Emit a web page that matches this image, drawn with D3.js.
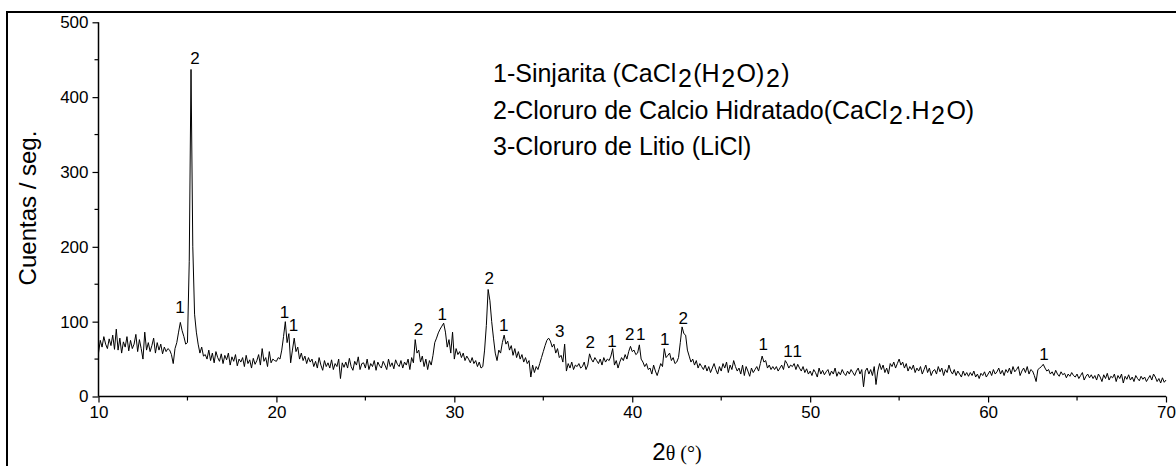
<!DOCTYPE html>
<html>
<head>
<meta charset="utf-8">
<script src="https://cdn.jsdelivr.net/npm/d3@7"></script>
<style>
  html, body { margin: 0; padding: 0; background: #fff; }
  svg { display: block; }
</style>
</head>
<body>
<svg id="chart" width="1176" height="466"></svg>
<script>
// ---- data ----
const twoThetaStart = 10;
const twoThetaStep = 0.1;
const counts = [
  58, 75, 66, 80, 70, 64, 77, 68, 82, 63,
  90, 62, 78, 58, 73, 66, 80, 61, 75, 64,
  70, 83, 60, 76, 64, 50, 86, 62, 72, 60,
  68, 78, 58, 72, 62, 70, 57, 66, 60, 64,
  62, 56, 44, 64, 72, 86, 99, 88, 80, 70,
  72, 180, 437, 200, 110, 86, 70, 58, 66, 54,
  56, 50, 62, 48, 58, 45, 60, 52, 47, 57,
  44, 55, 49, 58, 42, 53, 47, 56, 41, 50,
  46, 52, 40, 55, 44, 49, 38, 51, 43, 48,
  56, 42, 64, 47, 52, 40, 60, 45, 50, 48,
  47, 52, 50, 62, 80, 100, 72, 84, 45, 62,
  78, 60, 66, 50, 58, 48, 54, 44, 52, 46,
  50, 40, 47, 38, 52, 42, 35, 48, 40, 45,
  38, 49, 36, 44, 40, 50, 24, 45, 39, 46,
  38, 51, 40, 35, 47, 42, 53, 36, 44, 45,
  38, 50, 36, 44, 40, 48, 35, 46, 41, 38,
  47, 42, 36, 50, 40, 45, 37, 49, 43, 40,
  48, 38, 46, 42, 50, 36, 52, 45, 76, 58,
  62, 46, 54, 40, 50, 36, 48, 42, 55, 72,
  78, 85, 90, 94, 98, 86, 66, 76, 58, 86,
  50, 64, 56, 60, 52, 58, 48, 54, 50, 45,
  52, 44, 48, 40, 46, 38, 40, 62, 95, 143,
  128, 100, 78, 58, 48, 62, 58, 72, 82, 70,
  74, 62, 68, 55, 64, 52, 60, 50, 56, 46,
  52, 44, 48, 26, 42, 32, 40, 36, 44, 52,
  60, 68, 75, 78, 74, 66, 70, 58, 64, 52,
  55, 46, 70, 34, 44, 38, 46, 36, 42, 40,
  44, 38, 40, 46, 36, 42, 57, 50, 46, 52,
  48, 44, 50, 42, 52, 46, 50, 48, 54, 64,
  42, 48, 38, 46, 52, 48, 56, 50, 60, 67,
  60, 62, 56, 58, 69, 50, 46, 40, 44, 36,
  38, 30, 42, 34, 28, 36, 44, 40, 64, 52,
  55, 58, 48, 52, 44, 46, 52, 72, 93, 84,
  82, 62, 54, 46, 50, 42, 48, 38, 44, 40,
  36, 42, 34, 40, 32, 38, 44, 36, 30, 40,
  34, 44, 38, 46, 32, 42, 36, 48, 40, 34,
  38, 30, 42, 28, 40, 34, 27, 38, 32, 36,
  40, 34, 44, 54, 46, 48, 38, 42, 36, 40,
  36, 40, 34, 38, 42, 36, 48, 44, 38, 42,
  40, 44, 36, 43, 38, 34, 40, 32, 37, 30,
  34, 28, 36, 32, 26, 38, 30, 35, 29, 33,
  36, 28, 34, 30, 38, 27, 33, 29, 36, 31,
  28, 34, 30, 36, 32, 28, 34, 38, 30, 36,
  13, 34, 38, 30, 36, 28, 40, 16, 34, 44,
  36, 42, 32, 38, 30, 44, 40, 46, 38, 44,
  50, 42, 46, 38, 44, 34, 40, 36, 42, 32,
  38, 34, 40, 30, 36, 42, 32, 38, 28, 34,
  36, 30, 40, 33, 38, 28, 36, 32, 42, 34,
  30, 36, 28, 34, 30, 26, 34, 28, 32, 27,
  32, 28, 34, 26, 30, 24, 31, 28, 33, 26,
  30, 34, 28, 36, 30, 33, 38, 30, 35, 28,
  36, 32, 38, 30, 40, 33, 36, 40, 28, 34,
  38, 32, 40, 30, 36, 34, 28, 20, 36, 38,
  40, 43, 38, 34, 36, 30, 33, 28, 35, 30,
  27, 33, 29, 31, 25, 30, 27, 32, 28, 26,
  30, 24, 28, 32, 22, 27, 30, 25, 29, 24,
  28, 22, 30, 26, 20, 29, 24, 31, 22, 27,
  25, 30, 20, 28, 24, 30, 18, 27, 23, 29,
  22, 26, 20, 28, 24, 21, 27, 23, 26, 20,
  24, 28, 22, 30, 26, 20, 24, 18, 25, 19,
  22
];

// peak annotations: label, 2θ position, height (counts) of label baseline
const peakLabels = ["1", "2", "1", "1", "2", "1", "2", "1", "3", "2", "1", "2", "1", "1", "2", "1", "1", "1", "1"];
const peakTheta  = [14.58, 15.43, 20.45, 20.96, 27.99, 29.32, 31.96, 32.77, 35.92, 37.64, 38.86, 39.86, 40.48, 41.82, 42.86, 47.36, 48.76, 49.28, 63.14];
const peakLabelY = [112, 444, 105, 88, 82, 102, 150, 88, 80, 65, 66, 76, 76, 69, 97, 62, 53, 53, 49];

const xTicks = [10, 20, 30, 40, 50, 60, 70];
const xMinorTicks = [15, 25, 35, 45, 55, 65];
const yTicks = [0, 100, 200, 300, 400, 500];
const yMinorTicks = [50, 150, 250, 350, 450];

const legendLines = [
  [["1-Sinjarita (CaCl", 0], ["2", 1], ["(H", 0], ["2", 1], ["O)", 0], ["2", 1], [")", 0]],
  [["2-Cloruro de Calcio Hidratado(CaCl", 0], ["2", 1], [".H", 0], ["2", 1], ["O)", 0]],
  [["3-Cloruro de Litio (LiCl)", 0]]
];
const yAxisTitle = "Cuentas / seg.";

// ---- drawing ----
const svg = d3.select("#chart");
const sans = "'Liberation Sans', Arial, sans-serif";
const serif = "'Liberation Serif', 'Times New Roman', serif";

const x = d3.scaleLinear().domain([10, 70]).range([98.5, 1166]);
const y = d3.scaleLinear().domain([0, 500]).range([396.5, 22.3]);

// outer frame (only top and left edges fall inside the picture)
svg.append("rect")
  .attr("x", 7).attr("y", 12).attr("width", 1200).attr("height", 480)
  .attr("fill", "none").attr("stroke", "#000").attr("stroke-width", 2);

// curve
const pts = counts.map((c, i) => [twoThetaStart + i * twoThetaStep, c]);
const line = d3.line().x(d => x(d[0])).y(d => y(d[1]));
svg.append("path").datum(pts)
  .attr("d", line)
  .attr("fill", "none").attr("stroke", "#000").attr("stroke-width", 1)
  .attr("stroke-linejoin", "miter");

// axes
const xAxis = d3.axisBottom(x).tickValues(xTicks).tickFormat(d3.format("d")).tickSize(6).tickPadding(3);
const gx = svg.append("g").attr("transform", "translate(0,396.5)").call(xAxis);
svg.append("g").selectAll("line").data(xMinorTicks).join("line")
  .attr("x1", d => x(d)).attr("x2", d => x(d))
  .attr("y1", 396.5).attr("y2", 400.5)
  .attr("stroke", "#000").attr("stroke-width", 1.2);

const yAxis = d3.axisLeft(y).tickValues(yTicks).tickFormat(d3.format("d")).tickSize(6).tickPadding(4);
const gy = svg.append("g").attr("transform", "translate(98.5,0)").call(yAxis);
svg.append("g").selectAll("line").data(yMinorTicks).join("line")
  .attr("x1", 98.5).attr("x2", 94.5)
  .attr("y1", d => y(d)).attr("y2", d => y(d))
  .attr("stroke", "#000").attr("stroke-width", 1.2);

[gx, gy].forEach(g => {
  g.select(".domain").attr("stroke", "#000").attr("stroke-width", 1.5);
  g.selectAll(".tick line").attr("stroke", "#000").attr("stroke-width", 1.2);
  g.selectAll(".tick text").attr("fill", "#000")
    .style("font-family", sans).style("font-size", "17px");
});
gy.select(".domain").attr("d", "M0,22.3V396.5");
gx.select(".domain").attr("d", "M98.5,0H1166");

// peak labels
svg.append("g").selectAll("text").data(peakLabels).join("text")
  .attr("x", (d, i) => x(peakTheta[i]))
  .attr("y", (d, i) => y(peakLabelY[i]))
  .attr("text-anchor", "middle")
  .style("font-family", sans).style("font-size", "17px")
  .attr("fill", "#000")
  .text(d => d);

// legend
const legendBaselines = [82, 118.5, 154.5];
legendLines.forEach((parts, li) => {
  const t = svg.append("text")
    .attr("x", 493).attr("y", legendBaselines[li])
    .style("font-family", sans).style("font-size", "25px").attr("fill", "#000");
  let prevSub = 0;
  parts.forEach(([s, sub]) => {
    const ts = t.append("tspan").text(s);
    const dy = (sub - prevSub) * 5;
    if (dy !== 0) ts.attr("dy", dy).attr("dx", 1.5);
    prevSub = sub;
  });
});

// y axis title
svg.append("text")
  .attr("transform", "translate(36,208) rotate(-90)")
  .attr("text-anchor", "middle")
  .style("font-family", sans).style("font-size", "24px").attr("fill", "#000")
  .text(yAxisTitle);

// x axis title: 2θ (°)
const xt = svg.append("text")
  .attr("x", 677).attr("y", 460)
  .attr("text-anchor", "middle").attr("fill", "#000");
xt.append("tspan").style("font-family", sans).style("font-size", "24px").text("2");
xt.append("tspan").style("font-family", serif).style("font-size", "20px").text("θ (°)");
</script>
</body>
</html>
